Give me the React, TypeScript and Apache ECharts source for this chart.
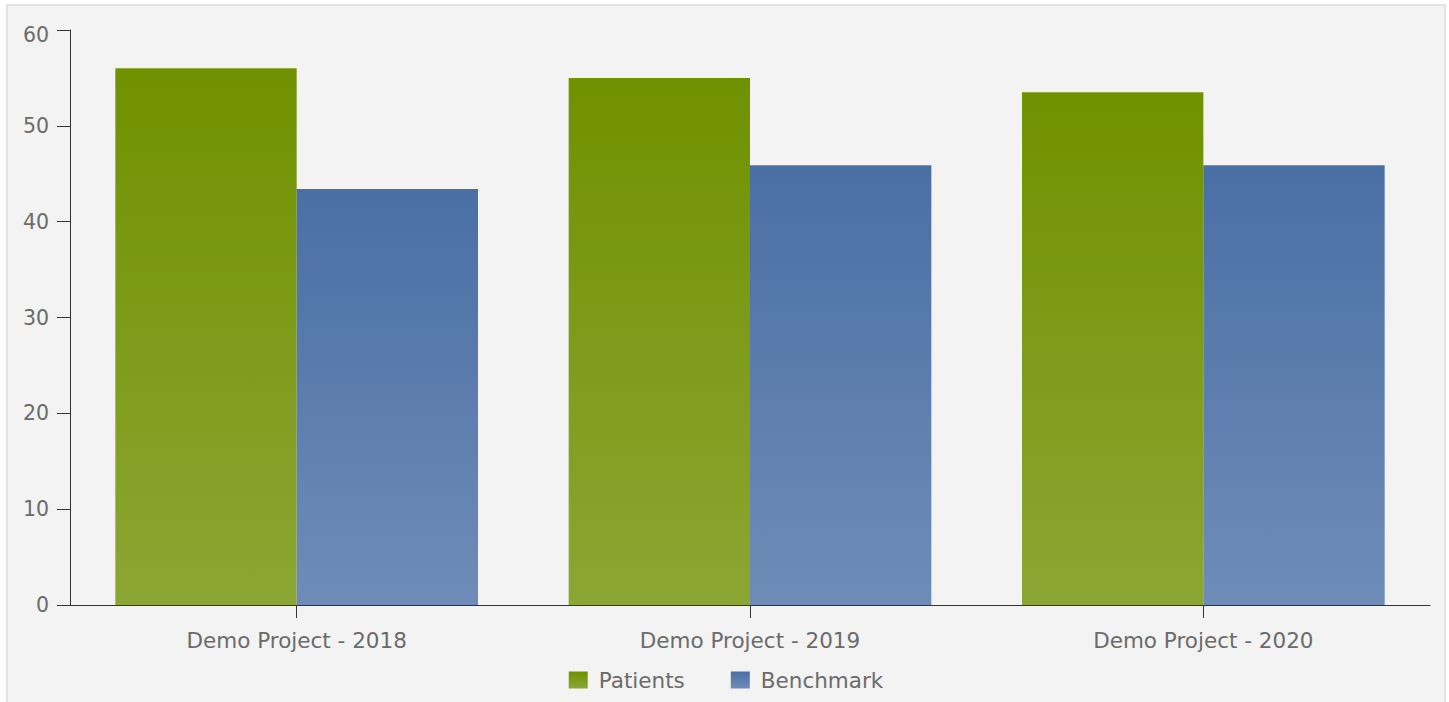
import React, { useEffect, useRef } from "react";
import * as echarts from "echarts";

const categories = ["Demo Project - 2018", "Demo Project - 2019", "Demo Project - 2020"];
const patients = [56, 55, 53.5];
const benchmark = [43.4, 45.9, 45.9];
const seriesNames = ["Patients", "Benchmark"];

const grad = (top: string, bottom: string) =>
  new echarts.graphic.LinearGradient(0, 0, 0, 1, [
    { offset: 0, color: top },
    { offset: 1, color: bottom },
  ]);

export default function App() {
  const ref = useRef<HTMLDivElement>(null);
  useEffect(() => {
    if (!ref.current) return;
    const chart = echarts.init(ref.current, undefined, { renderer: "svg" });
    const font = "DejaVu Sans, Verdana, sans-serif";
    const txt = "#6b6b6b";
    chart.setOption({
      animation: false,
      backgroundColor: "#f3f3f3",
      textStyle: { fontFamily: font },
      grid: { left: 62, top: 24, right: 14, bottom: 99, containLabel: false },
      legend: {
        top: 658,
        left: "center",
        itemWidth: 19,
        itemHeight: 17,
        itemGap: 46,
        icon: "rect",
        textStyle: { color: txt, fontSize: 21.5, fontFamily: font, padding: [0, 0, 0, 6] },
        data: seriesNames,
      },
      xAxis: {
        type: "category",
        data: categories,
        axisLine: { show: true, onZero: false, lineStyle: { color: "#333", width: 1 } },
        axisTick: { show: true, alignWithLabel: true, length: 13, lineStyle: { color: "#333" } },
        axisLabel: { color: txt, fontSize: 21.5, margin: 24, fontFamily: font },
        splitLine: { show: false },
        z: 5,
      },
      yAxis: {
        type: "value",
        min: 0,
        max: 60,
        interval: 10,
        axisLine: { show: true, lineStyle: { color: "#333", width: 1 } },
        axisTick: { show: true, length: 13, lineStyle: { color: "#333" } },
        axisLabel: {
          color: txt,
          fontSize: 20.5,
          margin: 21,
          fontFamily: font,
          formatter: (v: number) => (v === 60 ? "{top|60}" : String(v)),
          rich: { top: { fontSize: 20.5, color: txt, fontFamily: font, padding: [10, 0, 0, 0] } },
        },
        splitLine: { show: false },
      },
      series: [
        {
          name: seriesNames[0],
          type: "bar",
          data: patients,
          barGap: "0%",
          barCategoryGap: "20%",
          itemStyle: { color: grad("#709100", "#8ba633") },
        },
        {
          name: seriesNames[1],
          type: "bar",
          data: benchmark,
          barGap: "0%",
          barCategoryGap: "20%",
          itemStyle: { color: grad("#4a6fa5", "#6e8cb7") },
        },
      ],
    });
    return () => chart.dispose();
  }, []);
  return (
    <div
      style={{
        position: "absolute",
        left: 6,
        top: 4,
        width: 1436,
        height: 698,
        border: "2px solid #e3e3e3",
        background: "#f3f3f3",
      }}
    >
      <div ref={ref} style={{ width: 1436, height: 698 }} />
    </div>
  );
}
